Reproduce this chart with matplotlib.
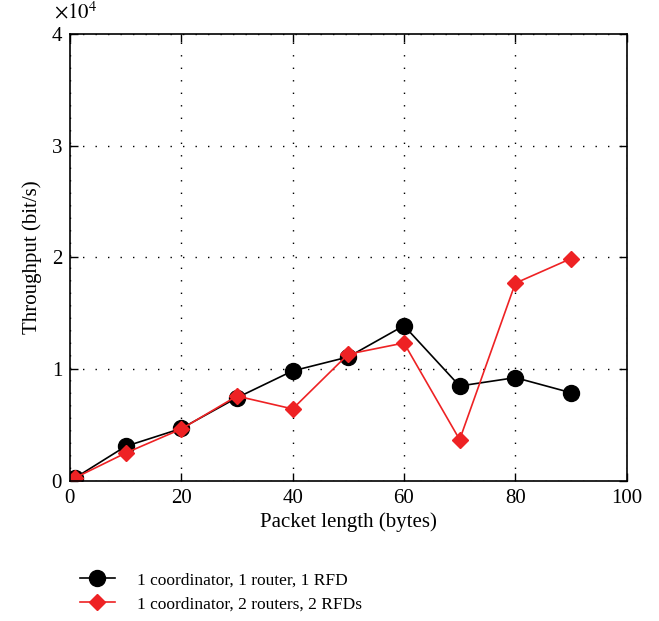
import matplotlib.pyplot as plt
from matplotlib.ticker import ScalarFormatter

plt.rcParams['font.family'] = ['Liberation Serif', 'DejaVu Serif']
plt.rcParams['mathtext.fontset'] = 'stix'

packet_len = [1, 10, 20, 30, 40, 50, 60, 70, 80, 90]
# throughput in bit/s
tp_1router = [300, 3100, 4700, 7450, 9850, 11100, 13900, 8500, 9250, 7900]
tp_2routers = [300, 2500, 4650, 7600, 6450, 11350, 12350, 3700, 17700, 19900]

label_1 = "1 coordinator, 1 router, 1 RFD"
label_2 = "1 coordinator, 2 routers, 2 RFDs"

fig = plt.figure(figsize=(6.59, 6.21), dpi=100)
ax = fig.add_axes([0.106, 0.2254, 0.845, 0.72])

ax.plot(packet_len, tp_1router, color='black', lw=1.2, marker='o',
        markersize=11.5, label=label_1)
ax.plot(packet_len, tp_2routers, color='#ee2224', lw=1.2, marker='D',
        markersize=8.5, label=label_2)

ax.set_xlim(0, 100)
ax.set_ylim(0, 40000)
ax.set_xticks(range(0, 101, 20))
ax.set_yticks(range(0, 40001, 10000))

# y tick labels in units of 1e4, multiplier drawn as a separate text
fmt = ScalarFormatter(useMathText=True)
fmt.set_powerlimits((0, 0))
ax.yaxis.set_major_formatter(fmt)
ax.yaxis.get_offset_text().set_visible(False)
ax.text(-0.028, 1.034, r'$\times10^{4}$', transform=ax.transAxes,
        ha='left', va='baseline', fontsize=15)

ax.grid(True, color='black', linestyle=(0, (1, 8)), lw=1.0)
ax.tick_params(direction='in', top=True, right=True, length=6,
               labelsize=15, width=1)
ax.tick_params(axis='x', pad=6)
ax.tick_params(axis='y', pad=5)
for s in ax.spines.values():
    s.set_linewidth(1.2)

ax.set_xlabel("Packet length (bytes)", fontsize=15, labelpad=3)
ax.set_ylabel("Throughput (bit/s)", fontsize=15, labelpad=6)

fig.legend(loc='lower left', bbox_to_anchor=(0.108, 0.0), frameon=False,
           fontsize=12.5, handlelength=2.0, handletextpad=1.3,
           labelspacing=0.45, borderaxespad=0.1)

fig.savefig("out.png", dpi=100)
